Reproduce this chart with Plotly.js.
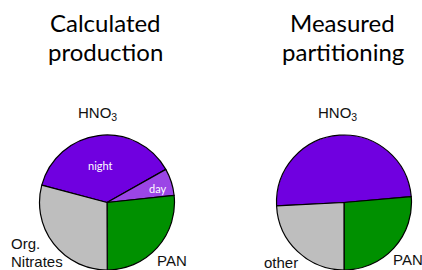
<!DOCTYPE html>
<html>
<head>
<meta charset="utf-8">
<script src="https://cdn.plot.ly/plotly-3.0.1.min.js"></script>
<style>html,body{margin:0;padding:0;background:#fff}#chart{width:422px;height:270px}</style>
</head>
<body>
<div id="chart"></div>
<script>
// Calculated production (fractions, clockwise starting at night)
var calcLabels = ["night", "day", "PAN", "Org. Nitrates"];
var calcValues = [37.7, 6.5, 26.6, 29.2];
var calcColors = ["#7000E0", "#9B45E6", "#009000", "#BEBEBE"];

// Measured partitioning (clockwise starting at HNO3)
var measLabels = ["HNO3", "PAN", "other"];
var measValues = [49.4, 26.4, 24.2];
var measColors = ["#7000E0", "#009000", "#BEBEBE"];

var W = 422, H = 270;
function px(x){ return x / W; }
function py(y){ return 1 - y / H; }

var common = {
  type: "pie", sort: false, direction: "clockwise",
  textinfo: "none", hoverinfo: "none", automargin: false
};

var t1 = Object.assign({}, common, {
  labels: calcLabels, values: calcValues, rotation: 284.9,
  marker: {colors: calcColors, line: {color: "#000", width: 1.2}},
  domain: {x: [px(39.5), px(174.5)], y: [0, 0.5]}
});
var t2 = Object.assign({}, common, {
  labels: measLabels, values: measValues, rotation: 267.1,
  marker: {colors: measColors, line: {color: "#000", width: 1.2}},
  domain: {x: [px(276.5), px(411.5)], y: [0, 0.5]}
});

var titleFont = {family: "Lato, 'Open Sans', sans-serif", size: 24, color: "#000"};
var labFont = {family: "'Liberation Sans', Arial, sans-serif", size: 15, color: "#111"};
var inFont = {family: "Lato, sans-serif", size: 11, color: "#fff"};

function ann(text, x, y, font, xa){
  return {text: text, x: px(x), y: py(y), xref: "paper", yref: "paper",
          showarrow: false, font: font, xanchor: xa || "center", yanchor: "middle"};
}

var layout = {
  width: W, height: H,
  margin: {l: 0, r: 0, t: 0, b: 0},
  paper_bgcolor: "#fff",
  showlegend: false,
  annotations: [
    ann("Calculated", 105, 22, titleFont),
    ann("production", 105, 51, titleFont),
    ann("Measured", 342.5, 22, titleFont),
    ann("partitioning", 342.5, 51, titleFont),
    ann("HNO<sub>3</sub>", 97, 113, labFont),
    ann("HNO<sub>3</sub>", 337, 113, labFont),
    ann("night", 100, 165, inFont),
    ann("day", 157, 188, inFont),
    ann("Org.", 9, 243, labFont, "left"),
    ann("Nitrates", 9, 261, labFont, "left"),
    ann("PAN", 172, 260, labFont),
    ann("other", 281, 262, labFont),
    ann("PAN", 408, 259, labFont)
  ]
};

Plotly.newPlot("chart", [t1, t2], layout, {staticPlot: true, displayModeBar: false});
</script>
</body>
</html>
